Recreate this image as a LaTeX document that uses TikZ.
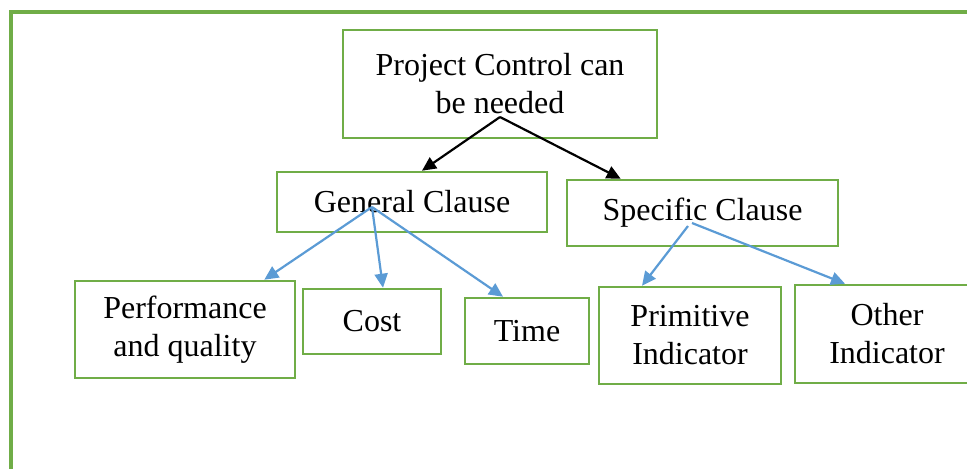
\documentclass[tikz,border=0pt]{standalone}
\usepackage{fontspec}
\setmainfont{Liberation Serif}
\usetikzlibrary{arrows.meta,shapes}
\definecolor{boxgreen}{RGB}{112,173,71}
\definecolor{arrowblue}{RGB}{91,155,213}
\tikzset{
  box/.style={draw=boxgreen,line width=1.3pt,align=center,inner sep=2pt,font=\fontsize{16}{19}\selectfont},
  blk/.style={-{Triangle[length=7pt,width=6.5pt]},line width=1.1pt,black},
  blu/.style={-{Triangle[length=7pt,width=6.5pt]},line width=1.1pt,arrowblue}
}
\begin{document}
\begin{tikzpicture}[x=0.5pt,y=-0.5pt]
\useasboundingbox (0,0) rectangle (967,468);
\clip (0,0) rectangle (967,468);
\draw[boxgreen,line width=1.6pt] (11,472) -- (11,12) -- (972,12);

\node (top) at (500,84)[box,minimum width=157pt,minimum height=54pt] {Project Control can\\be needed};
\node (gc) at (412,202)[box,minimum width=135pt,minimum height=30pt] {General Clause};
\node (sc) at (702.5,213)[box,minimum width=135.5pt,minimum height=33pt] {Specific Clause};
\node (pq) at (185,329.5)[box,minimum width=110pt,minimum height=48.5pt] {Performance\\and quality};
\node (cost) at (372,321.5)[box,minimum width=69pt,minimum height=32.5pt] {Cost};
\node (time) at (527,331)[box,minimum width=62pt,minimum height=33pt] {Time};
\node (prim) at (690,335.5)[box,minimum width=91pt,minimum height=48.5pt] {Primitive\\Indicator};
\node (other) at (887,334)[box,minimum width=92pt,minimum height=49pt] {Other\\Indicator};

\coordinate (topfork) at (500,117);
\coordinate (gcfork) at (372,207);
\coordinate (scforkA) at (688,226);
\coordinate (scforkB) at (692,223);

\draw [blk] (topfork) -- ([xshift=5pt]gc.north);
\draw [blk] (topfork) -- ([xshift=27.5pt]sc.north west);
\draw [blu] (gcfork) -- ([xshift=-16pt]pq.north east);
\draw [blu] (gcfork) -- ([xshift=5.5pt]cost.north);
\draw [blu] (gcfork) -- ([xshift=-12pt]time.north);
\draw [blu] (scforkA) -- ([xshift=-24pt]prim.north);
\draw [blu] (scforkB) -- ([xshift=-21pt]other.north);
\end{tikzpicture}
\end{document}
